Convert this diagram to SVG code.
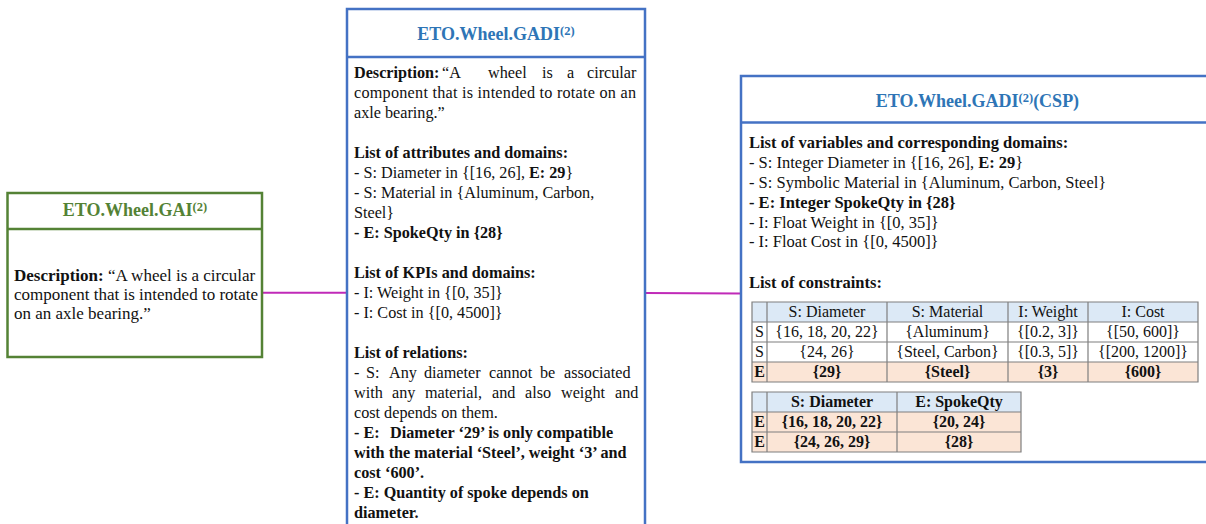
<svg xmlns="http://www.w3.org/2000/svg" width="1206" height="524" viewBox="0 0 1206 524">
<style>
text { font-family: "Liberation Serif", "Times New Roman", serif; fill: #111; }
.b { font-weight: bold; }
.gai { font-size: 17px; }
.gadi { font-size: 16.2px; }
.csp { font-size: 16.5px; }
.tb { font-size: 16px; }
.title { font-size: 18px; font-weight: bold; }
.green { fill: #548235; }
.blue { fill: #2e75b6; }
.sup { font-size: 12.5px; }
.boxg { fill: #fff; stroke: #548235; stroke-width: 2.5; }
.boxb { fill: #fff; stroke: #4472c4; stroke-width: 2.5; }
.dg { stroke: #548235; stroke-width: 2.5; }
.db { stroke: #4472c4; stroke-width: 2.5; }
.conn { stroke: #c02ab8; stroke-width: 2; fill: none; }
.hd { fill: #dce9f6; }
.pe { fill: #fbe5d6; }
.wh { fill: #fff; }
.grid { stroke: #7f7f7f; stroke-width: 1.2; fill: none; }
</style>

<g id="connectors">
  <line class="conn" x1="262" y1="292.7" x2="347" y2="292.7"/>
  <line class="conn" x1="645" y1="293" x2="741" y2="293.5"/>
</g>

<g id="gai">
  <rect class="boxg" x="7.5" y="193" width="254.5" height="164"/>
  <line class="dg" x1="7.5" y1="229" x2="262" y2="229"/>
  <text class="title green" x="135" y="216" text-anchor="middle">ETO.Wheel.GAI<tspan class="sup" dy="-5">(2)</tspan></text>
  <text class="gai" x="14" y="280.5"><tspan class="b">Description:</tspan> “A wheel is a circular</text>
  <text class="gai" x="14" y="299.5">component that is intended to rotate</text>
  <text class="gai" x="14" y="318.5">on an axle bearing.”</text>
</g>

<g id="gadi">
  <rect class="boxb" x="347" y="9" width="298" height="530"/>
  <line class="db" x1="347" y1="57" x2="645" y2="57"/>
  <text class="title blue" x="496" y="40" text-anchor="middle">ETO.Wheel.GADI<tspan class="sup" dy="-5">(2)</tspan></text>
  <text class="gadi" y="77.5"><tspan class="b" x="354">Description:</tspan><tspan x="442">“A</tspan><tspan x="488">wheel</tspan><tspan x="542">is</tspan><tspan x="567">a</tspan><tspan x="587">circular</tspan></text>
  <text class="gadi" x="354" y="97.5" textLength="282" lengthAdjust="spacing">component that is intended to rotate on an</text>
  <text class="gadi" x="354" y="117.5">axle bearing.”</text>
  <text class="gadi b" x="354" y="157.5">List of attributes and domains:</text>
  <text class="gadi" x="354" y="177.5">- S: Diameter in {[16, 26], <tspan class="b">E: 29</tspan>}</text>
  <text class="gadi" x="354" y="197.5">- S: Material in {Aluminum, Carbon,</text>
  <text class="gadi" x="354" y="217.5">Steel}</text>
  <text class="gadi b" x="354" y="237.5">- E: SpokeQty in {28}</text>
  <text class="gadi b" x="354" y="277.5">List of KPIs and domains:</text>
  <text class="gadi" x="354" y="297.5">- I: Weight in {[0, 35]}</text>
  <text class="gadi" x="354" y="317.5">- I: Cost in {[0, 4500]}</text>
  <text class="gadi b" x="354" y="357.5">List of relations:</text>
  <text class="gadi" y="377.5"><tspan x="354">-</tspan><tspan x="366">S:</tspan><tspan x="389">Any</tspan><tspan x="424">diameter</tspan><tspan x="489">cannot</tspan><tspan x="540">be</tspan><tspan x="564">associated</tspan></text>
  <text class="gadi" y="397.5"><tspan x="354">with</tspan><tspan x="392">any</tspan><tspan x="425">material,</tspan><tspan x="492">and</tspan><tspan x="525">also</tspan><tspan x="561">weight</tspan><tspan x="615">and</tspan></text>
  <text class="gadi" x="354" y="417.5">cost depends on them.</text>
  <text class="gadi b" y="437.5"><tspan x="354">- E:</tspan><tspan x="390">Diameter ‘29’ is only compatible</tspan></text>
  <text class="gadi b" x="354" y="457.5">with the material ‘Steel’, weight ‘3’ and</text>
  <text class="gadi b" x="354" y="477.5">cost ‘600’.</text>
  <text class="gadi b" x="354" y="497.5">- E: Quantity of spoke depends on</text>
  <text class="gadi b" x="354" y="517.5">diameter.</text>
</g>

<g id="csp">
  <rect class="boxb" x="741" y="76" width="480" height="386"/>
  <line class="db" x1="741" y1="122.5" x2="1221" y2="122.5"/>
  <text class="title blue" x="977.5" y="107" text-anchor="middle">ETO.Wheel.GADI<tspan class="sup" dy="-5">(2)</tspan><tspan dy="5">(CSP)</tspan></text>
  <text class="csp b" x="749" y="148">List of variables and corresponding domains:</text>
  <text class="csp" x="749" y="168">- S: Integer Diameter in {[16, 26], <tspan class="b">E: 29</tspan>}</text>
  <text class="csp" x="749" y="188">- S: Symbolic Material in {Aluminum, Carbon, Steel}</text>
  <text class="csp b" x="749" y="207.5">- E: Integer SpokeQty in {28}</text>
  <text class="csp" x="749" y="227.5">- I: Float Weight in {[0, 35]}</text>
  <text class="csp" x="749" y="247">- I: Float Cost in {[0, 4500]}</text>
  <text class="csp b" x="749" y="288">List of constraints:</text>

  <g id="table1">
    <rect class="hd" x="752" y="302" width="446" height="20"/>
    <rect class="wh" x="752" y="322" width="446" height="40"/>
    <rect class="pe" x="752" y="362" width="446" height="20"/>
    <path class="grid" d="M752 302H1198V382H752Z M752 322H1198 M752 342H1198 M752 362H1198 M767 302V382 M887 302V382 M1008 302V382 M1088 302V382"/>
    <g class="tb" text-anchor="middle">
      <text x="827" y="317">S: Diameter</text>
      <text x="947.5" y="317">S: Material</text>
      <text x="1048" y="317">I: Weight</text>
      <text x="1143" y="317">I: Cost</text>
      <text x="759.5" y="337">S</text>
      <text x="827" y="337">{16, 18, 20, 22}</text>
      <text x="947.5" y="337">{Aluminum}</text>
      <text x="1048" y="337">{[0.2, 3]}</text>
      <text x="1143" y="337">{[50, 600]}</text>
      <text x="759.5" y="357">S</text>
      <text x="827" y="357">{24, 26}</text>
      <text x="947.5" y="357">{Steel, Carbon}</text>
      <text x="1048" y="357">{[0.3, 5]}</text>
      <text x="1143" y="357">{[200, 1200]}</text>
      <g class="b">
        <text x="759.5" y="377">E</text>
        <text x="827" y="377">{29}</text>
        <text x="947.5" y="377">{Steel}</text>
        <text x="1048" y="377">{3}</text>
        <text x="1143" y="377">{600}</text>
      </g>
    </g>
  </g>

  <g id="table2">
    <rect class="hd" x="752" y="392" width="269" height="20"/>
    <rect class="pe" x="752" y="412" width="269" height="40"/>
    <path class="grid" d="M752 392H1021V452H752Z M752 412H1021 M752 432H1021 M767 392V452 M897 392V452"/>
    <g class="tb b" text-anchor="middle">
      <text x="832" y="407">S: Diameter</text>
      <text x="959" y="407">E: SpokeQty</text>
      <text x="759.5" y="427">E</text>
      <text x="832" y="427">{16, 18, 20, 22}</text>
      <text x="959" y="427">{20, 24}</text>
      <text x="759.5" y="447">E</text>
      <text x="832" y="447">{24, 26, 29}</text>
      <text x="959" y="447">{28}</text>
    </g>
  </g>
</g>
</svg>
